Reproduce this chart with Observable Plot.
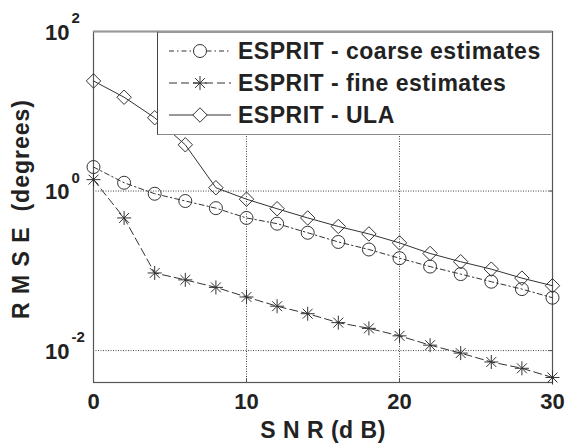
<!DOCTYPE html>
<html>
<head>
<meta charset="utf-8">
<script src="https://cdn.jsdelivr.net/npm/d3@7"></script>
<script src="https://cdn.jsdelivr.net/npm/@observablehq/plot@0.6"></script>
<style>
  html, body { margin: 0; padding: 0; background: #fff; }
  #wrap { position: relative; width: 566px; height: 445px; font-family: "Liberation Sans", Arial, sans-serif; }
  #legend { position: absolute; left: 157px; top: 31px; width: 394px; height: 104px; background: #fff;
    border-left: 1px solid #444; border-bottom: 1px solid #888; border-top: 2px solid #999; box-sizing: border-box; }
  .row { position: absolute; left: 0; height: 32px; display: flex; align-items: center; }
  .row svg { display: block; margin-left: 11px; }
  .row span { margin-left: 7px; font-weight: bold; font-size: 23px; letter-spacing: 0.5px; color: #222; white-space: nowrap; }
</style>
</head>
<body>
<div id="wrap"></div>
<script>
const snr = [0, 2, 4, 6, 8, 10, 12, 14, 16, 18, 20, 22, 24, 26, 28, 30];
const coarse = [2.0, 1.27, 0.925, 0.75, 0.61, 0.46, 0.39, 0.30, 0.23, 0.185, 0.144, 0.113, 0.091, 0.073, 0.059, 0.046];
const fine = [1.39, 0.46, 0.094, 0.077, 0.062, 0.047, 0.036, 0.029, 0.0224, 0.019, 0.0153, 0.0117, 0.0093, 0.0072, 0.006, 0.0046];
const ula = [24, 15, 8.3, 3.8, 1.1, 0.79, 0.6, 0.46, 0.36, 0.29, 0.224, 0.165, 0.13, 0.105, 0.081, 0.065];
const seriesNames = ["ESPRIT - coarse estimates", "ESPRIT - fine estimates", "ESPRIT - ULA"];
const xTicks = [0, 10, 20, 30];
const yTicks = [100, 1, 0.01];
const yExp = ["2", "0", "-2"];
const xGrid = [10, 20];
const yGrid = [1, 0.01];
const xLabel = "S N R (d B)";
const yLabel = "R M S E  (degrees)";

const star8 = {
  draw(context, size) {
    const r = Math.sqrt(size / Math.PI);
    const d = r * Math.SQRT1_2;
    context.moveTo(-r, 0); context.lineTo(r, 0);
    context.moveTo(0, -r); context.lineTo(0, r);
    context.moveTo(-d, -d); context.lineTo(d, d);
    context.moveTo(-d, d); context.lineTo(d, -d);
  }
};

const styles = [
  {dash: "5,3,1.5,3", symbol: "circle", r: 6.5},
  {dash: "8,4", symbol: star8, r: 7},
  {dash: null, symbol: "diamond2", r: 6.5}
];
const all = [coarse, fine, ula];
const data = [];
all.forEach((vals, i) => vals.forEach((v, j) => data.push({series: seriesNames[i], x: snr[j], y: v})));

const ink = "#333";
const marks = [
  Plot.gridX(xGrid, {stroke: "#444", strokeOpacity: 1, strokeDasharray: "1,1.5", strokeWidth: 1}),
  Plot.gridY(yGrid, {stroke: "#444", strokeOpacity: 1, strokeDasharray: "1,1.5", strokeWidth: 1}),
  Plot.frame({stroke: "#555", strokeWidth: 1.2}),
  Plot.ruleY([yTicks[0]], {stroke: "#999", strokeWidth: 2}),
  Plot.axisX(xTicks, {tickSize: -4, tickFormat: () => "", label: null, stroke: "#555"}),
  Plot.axisX(xTicks, {tickSize: 0, tickPadding: 11, label: null, fontSize: 22, fontWeight: "bold", fill: "#222"}),
  Plot.axisY(yGrid, {tickSize: -4, tickFormat: () => "", label: null, anchor: "right", stroke: "#555"}),
  Plot.text(yTicks, {y: d => d, frameAnchor: "left", text: () => "10", textAnchor: "end", lineAnchor: "middle", dx: -24, dy: 1, fontSize: 22, fontWeight: "bold", fill: "#222"}),
  Plot.text(yTicks, {y: d => d, frameAnchor: "left", text: (d, i) => yExp[i], textAnchor: "start", lineAnchor: "middle", dx: -22, dy: -13, fontSize: 15, fontWeight: "bold", fill: "#222"}),
  Plot.text([xLabel], {frameAnchor: "bottom", text: d => d, textAnchor: "middle", lineAnchor: "middle", dy: 48, fontSize: 23, fontWeight: "bold", fill: "#222"}),
  Plot.text([yLabel], {frameAnchor: "left", text: d => d, rotate: -90, textAnchor: "middle", lineAnchor: "middle", dx: -72, dy: 2, fontSize: 23, fontWeight: "bold", fill: "#222"})
];
seriesNames.forEach((name, i) => {
  const sub = data.filter(d => d.series === name);
  marks.push(Plot.line(sub, {x: "x", y: "y", stroke: ink, strokeWidth: 1, strokeDasharray: styles[i].dash}));
  marks.push(Plot.dot(sub, {x: "x", y: "y", stroke: ink, fill: "none", strokeWidth: 1, symbol: () => styles[i].symbol, r: styles[i].r}));
});

const chart = Plot.plot({
  width: 566,
  height: 445,
  marginLeft: 93,
  marginRight: 14,
  marginTop: 31,
  marginBottom: 63,
  style: {fontFamily: "'Liberation Sans', Arial, sans-serif", background: "#fff"},
  x: {domain: [0, 30], axis: null},
  y: {type: "log", domain: [Math.pow(10, -2.4), 100], axis: null},
  symbol: {type: "identity"},
  marks
});
const wrap = document.getElementById("wrap");
wrap.appendChild(chart);
// letter spacing for the axis titles
d3.select(chart).selectAll("text").filter(function() { return this.textContent === xLabel; })
  .style("letter-spacing", "0.5px");
d3.select(chart).selectAll("text").filter(function() { return this.textContent === yLabel; })
  .style("letter-spacing", "1px");

// legend
const legend = document.createElement("div");
legend.id = "legend";
const rowsTop = [2, 34, 66];
seriesNames.forEach((name, i) => {
  const row = document.createElement("div");
  row.className = "row";
  row.style.top = rowsTop[i] + "px";
  const s = d3.create("svg").attr("width", 62).attr("height", 32);
  s.append("line").attr("x1", 0).attr("x2", 62).attr("y1", 16).attr("y2", 16)
    .attr("stroke", ink).attr("stroke-width", 1).attr("stroke-dasharray", styles[i].dash);
  const sym = typeof styles[i].symbol === "string"
    ? (styles[i].symbol === "circle" ? d3.symbolCircle : d3.symbolDiamond2)
    : styles[i].symbol;
  s.append("path").attr("transform", "translate(31,16)")
    .attr("d", d3.symbol(sym, Math.PI * styles[i].r * styles[i].r)())
    .attr("fill", "#fff").attr("stroke", ink).attr("stroke-width", 1);
  row.appendChild(s.node());
  const t = document.createElement("span");
  t.textContent = name;
  row.appendChild(t);
  legend.appendChild(row);
});
wrap.appendChild(legend);
</script>
</body>
</html>
